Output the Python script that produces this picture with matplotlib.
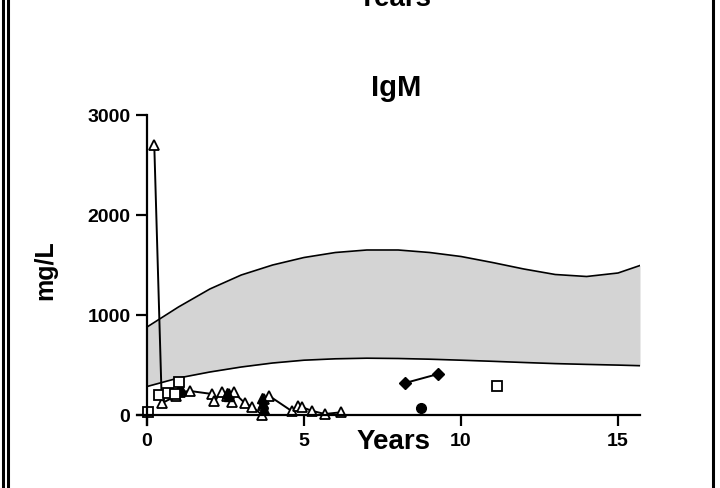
import matplotlib
matplotlib.use('Agg')
import matplotlib.pyplot as plt
from matplotlib.lines import Line2D

plt.rcParams['font.family'] = ['Liberation Sans', 'DejaVu Sans']
plt.rcParams['font.weight'] = 'bold'

# reference band (years, lower/upper limits in mg/L)
band_years = [0, 1, 2, 3, 4, 5, 6, 7, 8, 9, 10, 11, 12, 13, 14, 15, 15.7]
band_upper = [880, 1080, 1260, 1400, 1500, 1575, 1625, 1650, 1650, 1625, 1585, 1525, 1460, 1405, 1385, 1420, 1495]
band_lower = [285, 370, 430, 480, 520, 548, 562, 568, 565, 558, 548, 537, 525, 514, 506, 499, 493]

# patient with open triangles (connected)
tri_x = [0.23, 0.47, 0.93, 1.05, 1.37, 2.07, 2.12, 2.38, 2.55, 2.62, 2.72, 2.76, 3.12, 3.34, 3.67, 3.70, 3.72, 3.88, 4.62, 4.81, 4.92, 5.24, 5.66, 6.17]
tri_y = [2700, 117, 193, 230, 240, 210, 143, 227, 190, 210, 135, 227, 117, 83, 0, 100, 160, 193, 37, 93, 80, 43, 10, 27]

# filled triangles (overlapping dark cluster)
ftri_x = [1.0, 1.08, 2.55, 2.6, 3.66, 3.7, 3.72]
ftri_y = [240, 260, 220, 195, 170, 120, 60]

# open squares
sq_x = [0.04, 0.39, 0.68, 0.9, 1.03, 11.15]
sq_y = [35, 200, 220, 210, 330, 290]

# filled diamonds (connected)
dia_x = [8.22, 9.27]
dia_y = [320, 410]

# filled circle
circ_x = [8.74]
circ_y = [70]

fig = plt.figure(figsize=(7.2, 4.89), dpi=100)
ax = fig.add_axes([137 / 720, 63 / 489, 503 / 720, 310 / 489])

ax.fill_between(band_years, band_lower, band_upper, color='#d4d4d4', lw=0)
ax.plot(band_years, band_upper, color='black', lw=1.2)
ax.plot(band_years, band_lower, color='black', lw=1.2)

ax.plot(tri_x, tri_y, color='black', lw=1.4, marker='^', ms=7,
        mfc='white', mec='black', mew=1.3)
ax.plot(ftri_x, ftri_y, ls='none', marker='^', ms=7, color='black')
ax.plot(sq_x, sq_y, ls='none', marker='s', ms=7, mfc='white', mec='black', mew=1.3)
ax.plot(dia_x, dia_y, color='black', lw=1.4, marker='D', ms=6)
ax.plot(circ_x, circ_y, ls='none', marker='o', ms=7, color='black')

ax.set_xlim(-0.32, 15.7)
ax.set_ylim(-100, 3000)
for s in ['top', 'right']:
    ax.spines[s].set_visible(False)
ax.spines['left'].set_position(('data', 0))
ax.spines['bottom'].set_position(('data', 0))
ax.spines['left'].set_linewidth(1.6)
ax.spines['bottom'].set_linewidth(1.6)
ax.set_xticks([0, 5, 10, 15])
ax.set_yticks([0, 1000, 2000, 3000])
ax.tick_params(direction='out', length=8, width=1.6, labelsize=14, pad=4)
for lab in ax.get_xticklabels() + ax.get_yticklabels():
    lab.set_fontweight('bold')

fig.text(394 / 720, 1 - 442 / 489, 'Years', ha='center', va='center', fontsize=20, fontweight='bold')
fig.text(45 / 720, 1 - 270 / 489, 'mg/L', ha='center', va='center', rotation=90, fontsize=18, fontweight='bold')
fig.text(396 / 720, 1 - 88 / 489, 'IgM', ha='center', va='center', fontsize=21, fontweight='bold')
# title of the panel above, cut off by the crop
fig.text(395 / 720, 1 - 6 / 489, 'Years', ha='center', va='baseline', fontsize=20, fontweight='bold')

# frame lines at the sides
for xp, lw in [(3, 2.2), (8, 2.2), (713, 2.2)]:
    fig.add_artist(Line2D([xp / 720, xp / 720], [0, 1], color='black', lw=lw))

plt.savefig('out.png', dpi=100)
plt.close(fig)
